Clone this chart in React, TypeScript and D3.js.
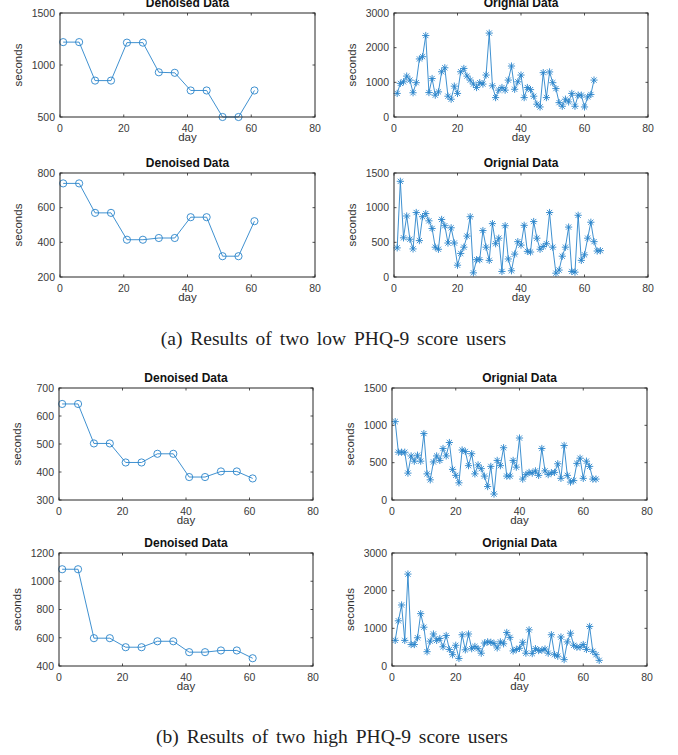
import React from 'react';
import * as d3 from 'd3';

// days at which the denoised values are reported
const denoisedDays = [1, 6, 11, 16, 21, 26, 31, 36, 41, 46, 51, 56, 61];
const xTicks = [0, 20, 40, 60, 80];

// (a) low PHQ-9 users
const lowUser1Denoised = [1220, 1220, 850, 850, 1215, 1215, 930, 925, 755, 755, 500, 500, 755];
const lowUser1Original = [
  680, 970, 1015, 1180, 1065, 700, 990, 1675, 1740, 2350, 705, 1110, 630, 725, 1305, 1420,
  600, 513, 890, 680, 1305, 1400, 1180, 1065, 950, 850, 990, 950, 1210, 2420, 900, 560,
  775, 850, 775, 1065, 1470, 800, 1015, 1210, 560, 850, 790, 600, 370, 290, 1280, 560,
  1300, 990, 820, 415, 310, 513, 435, 680, 310, 630, 630, 290, 580, 650, 1065,
];
const lowUser2Denoised = [740, 740, 570, 570, 415, 415, 425, 425, 545, 545, 320, 320, 522];
const lowUser2Original = [
  420, 1380, 565, 880, 545, 405, 930, 525, 870, 915, 810, 700, 430, 400, 830, 740,
  490, 710, 490, 170, 340, 430, 590, 870, 60, 250, 250, 670, 430, 240, 770, 480,
  560, 80, 740, 260, 90, 330, 510, 460, 745, 370, 360, 800, 560, 400, 440, 480,
  930, 430, 55, 100, 300, 430, 720, 80, 70, 890, 240, 320, 560, 790, 510, 375, 380,
];

// (b) high PHQ-9 users
const highUser1Denoised = [643, 643, 502, 502, 434, 434, 465, 465, 382, 382, 402, 402, 377];
const highUser1Original = [
  1050, 640, 640, 640, 360, 590, 520, 600, 520, 890, 350, 270, 510, 590, 530, 690,
  590, 770, 410, 330, 230, 670, 650, 460, 620, 350, 470, 420, 320, 180, 450, 80,
  530, 460, 700, 320, 320, 530, 440, 830, 280, 340, 370, 360, 390, 330, 690, 390,
  340, 365, 370, 485, 290, 730, 330, 240, 260, 490, 560, 290, 520, 450, 280, 280,
];
const highUser2Denoised = [1085, 1085, 597, 597, 533, 533, 575, 575, 498, 498, 510, 510, 455];
const highUser2Original = [
  680, 1200, 1620, 680, 2440, 570, 570, 750, 1390, 1030, 380, 660, 850, 680, 730, 510,
  810, 440, 300, 550, 200, 830, 430, 850, 460, 520, 460, 340, 610, 640, 630, 600,
  480, 640, 590, 890, 760, 400, 440, 470, 630, 340, 960, 330, 460, 410, 420, 450,
  340, 830, 300, 260, 770, 170, 640, 870, 550, 500, 500, 570, 440, 1050, 390, 300, 150,
];

const BLUE = '#2a84cb';
const AXIS = '#262626';
const SANS = '"Liberation Sans", Arial, Helvetica, sans-serif';
const SERIF = '"Liberation Serif", "Times New Roman", serif';

type PanelProps = {
  x0: number; x1: number; y0: number; y1: number;
  title: string;
  values: number[];
  days: number[];
  yTicks: number[];
  marker: 'o' | '*';
};

const Panel: React.FC<PanelProps> = ({ x0, x1, y0, y1, title, values, days, yTicks, marker }) => {
  const x = d3.scaleLinear().domain([0, 80]).range([x0, x1]);
  const y = d3.scaleLinear().domain([yTicks[0], yTicks[yTicks.length - 1]]).range([y1, y0]);
  const pts: [number, number][] = values.map((v, i) => [days[i], v]);
  const line = d3.line<[number, number]>().x(d => x(d[0])).y(d => y(d[1]));
  const tk = 2.5;
  const star = 'M-3.6,0H3.6M0,-3.6V3.6M-2.6,-2.6L2.6,2.6M-2.6,2.6L2.6,-2.6';

  return (
    <g fontFamily={SANS}>
      <path d={line(pts) || ''} fill="none" stroke={BLUE} strokeWidth={0.9} />
      {pts.map((p, i) =>
        marker === 'o' ? (
          <circle key={i} cx={x(p[0])} cy={y(p[1])} r={3.6} fill="none" stroke={BLUE} strokeWidth={0.9} />
        ) : (
          <path key={i} transform={`translate(${x(p[0])},${y(p[1])})`} d={star} stroke={BLUE} strokeWidth={0.9} fill="none" />
        )
      )}
      <rect x={x0} y={y0} width={x1 - x0} height={y1 - y0} fill="none" stroke={AXIS} strokeWidth={1} />
      {xTicks.map(t => (
        <g key={'x' + t}>
          <line x1={x(t)} x2={x(t)} y1={y1} y2={y1 - tk} stroke={AXIS} strokeWidth={0.8} />
          <line x1={x(t)} x2={x(t)} y1={y0} y2={y0 + tk} stroke={AXIS} strokeWidth={0.8} />
          <text x={x(t)} y={y1 + 14.5} textAnchor="middle" fontSize={10.5} fill="#3a3a3a">{t}</text>
        </g>
      ))}
      {yTicks.map(t => (
        <g key={'y' + t}>
          <line x1={x0} x2={x0 + tk} y1={y(t)} y2={y(t)} stroke={AXIS} strokeWidth={0.8} />
          <line x1={x1} x2={x1 - tk} y1={y(t)} y2={y(t)} stroke={AXIS} strokeWidth={0.8} />
          <text x={x0 - 5} y={y(t)} dy="0.36em" textAnchor="end" fontSize={10.5} fill="#3a3a3a">{t}</text>
        </g>
      ))}
      <text x={(x0 + x1) / 2} y={y0 - 6} textAnchor="middle" fontSize={12} fontWeight="bold" fill="#111">{title}</text>
      <text x={(x0 + x1) / 2} y={y1 + 23.5} textAnchor="middle" fontSize={11.5} fill="#333">day</text>
      <text transform={`translate(${x0 - 38},${(y0 + y1) / 2}) rotate(-90)`} textAnchor="middle" fontSize={11.5} fill="#333">seconds</text>
    </g>
  );
};

const seq = (n: number) => Array.from({ length: n }, (_, i) => i + 1);

const App: React.FC = () => {
  return (
    <svg width={678} height={755} style={{ position: 'absolute', left: 0, top: 0, background: '#fff' }}>
      <Panel x0={60} x1={315} y0={13} y1={117} title="Denoised Data" values={lowUser1Denoised} days={denoisedDays} yTicks={[500, 1000, 1500]} marker="o" />
      <Panel x0={394} x1={648} y0={13} y1={117} title="Orignial Data" values={lowUser1Original} days={seq(lowUser1Original.length)} yTicks={[0, 1000, 2000, 3000]} marker="*" />
      <Panel x0={60} x1={315} y0={173} y1={277} title="Denoised Data" values={lowUser2Denoised} days={denoisedDays} yTicks={[200, 400, 600, 800]} marker="o" />
      <Panel x0={394} x1={648} y0={173} y1={277} title="Orignial Data" values={lowUser2Original} days={seq(lowUser2Original.length)} yTicks={[0, 500, 1000, 1500]} marker="*" />
      <text x={333.5} y={345} textAnchor="middle" fontFamily={SERIF} fontSize={19.5} wordSpacing={3} fill="#222">(a) Results of two low PHQ-9 score users</text>

      <Panel x0={59} x1={313} y0={388} y1={500} title="Denoised Data" values={highUser1Denoised} days={denoisedDays} yTicks={[300, 400, 500, 600, 700]} marker="o" />
      <Panel x0={392} x1={647} y0={388} y1={500} title="Orignial Data" values={highUser1Original} days={seq(highUser1Original.length)} yTicks={[0, 500, 1000, 1500]} marker="*" />
      <Panel x0={59} x1={313} y0={553} y1={666} title="Denoised Data" values={highUser2Denoised} days={denoisedDays} yTicks={[400, 600, 800, 1000, 1200]} marker="o" />
      <Panel x0={392} x1={647} y0={553} y1={666} title="Orignial Data" values={highUser2Original} days={seq(highUser2Original.length)} yTicks={[0, 1000, 2000, 3000]} marker="*" />
      <text x={332} y={743} textAnchor="middle" fontFamily={SERIF} fontSize={19.5} wordSpacing={3} fill="#222">(b) Results of two high PHQ-9 score users</text>
    </svg>
  );
};

export default App;
